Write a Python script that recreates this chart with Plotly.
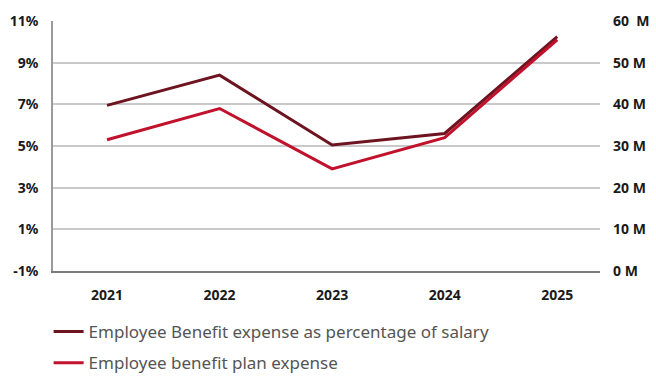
import plotly.graph_objects as go

years = ["2021", "2022", "2023", "2024", "2025"]
pct_of_salary = [6.95, 8.4, 5.05, 5.6, 10.25]        # %
plan_expense_m = [31.5, 39.0, 24.5, 32.0, 55.5]        # millions

pct_ticks = [-1, 1, 3, 5, 7, 9, 11]
pct_labels = ["-1%", "1%", "3%", "5%", "7%", "9%", "11%"]
m_ticks = [0, 10, 20, 30, 40, 50, 60]
m_labels = ["0 M", "10 M", "20 M", "30 M", "40 M", "50 M", "60  M"]

DARK = "#6d1420"
RED = "#c0122c"
TICK_FONT = dict(family="Noto Sans", size=14, color="#1a1a1a", weight="bold")

fig = go.Figure()
fig.add_trace(go.Scatter(
    x=years, y=pct_of_salary, mode="lines",
    line=dict(color=DARK, width=3),
    name="Employee Benefit expense as percentage of salary",
    legendgroup="a", yaxis="y",
))
fig.add_trace(go.Scatter(
    x=years, y=plan_expense_m, mode="lines",
    line=dict(color=RED, width=3),
    name="Employee benefit plan expense",
    legendgroup="b", yaxis="y2",
))

fig.update_layout(
    width=656, height=377,
    margin=dict(l=53, r=56, t=21, b=106, autoexpand=False),
    paper_bgcolor="white", plot_bgcolor="white",
    showlegend=True,
    legend=dict(
        x=-0.008, xanchor="left", y=-0.172, yanchor="top",
        orientation="v", tracegroupgap=6,
        font=dict(family="Noto Sans", size=17, color="#555555"),
        bgcolor="rgba(0,0,0,0)",
    ),
    xaxis=dict(
        type="category", range=[-0.48, 4.38],
        showgrid=False, showline=True, linecolor="#7a7a7a", linewidth=1.5,
        ticks="", tickfont=TICK_FONT, ticklabelstandoff=10,
        fixedrange=True,
    ),
    yaxis=dict(
        range=[-1, 11], tickvals=pct_ticks, ticktext=pct_labels,
        showgrid=True, gridcolor="#c9c9c9", gridwidth=1.5,
        showline=True, linecolor="#9a9a9a", linewidth=1.5,
        zeroline=False, ticks="", tickfont=TICK_FONT, ticklabelstandoff=10,
    ),
    yaxis2=dict(
        range=[0, 60], tickvals=m_ticks, ticktext=m_labels,
        overlaying="y", side="right",
        showgrid=False, showline=False, zeroline=False,
        ticks="", tickfont=TICK_FONT, ticklabelstandoff=12,
    ),
)

fig.write_html("out.html")
